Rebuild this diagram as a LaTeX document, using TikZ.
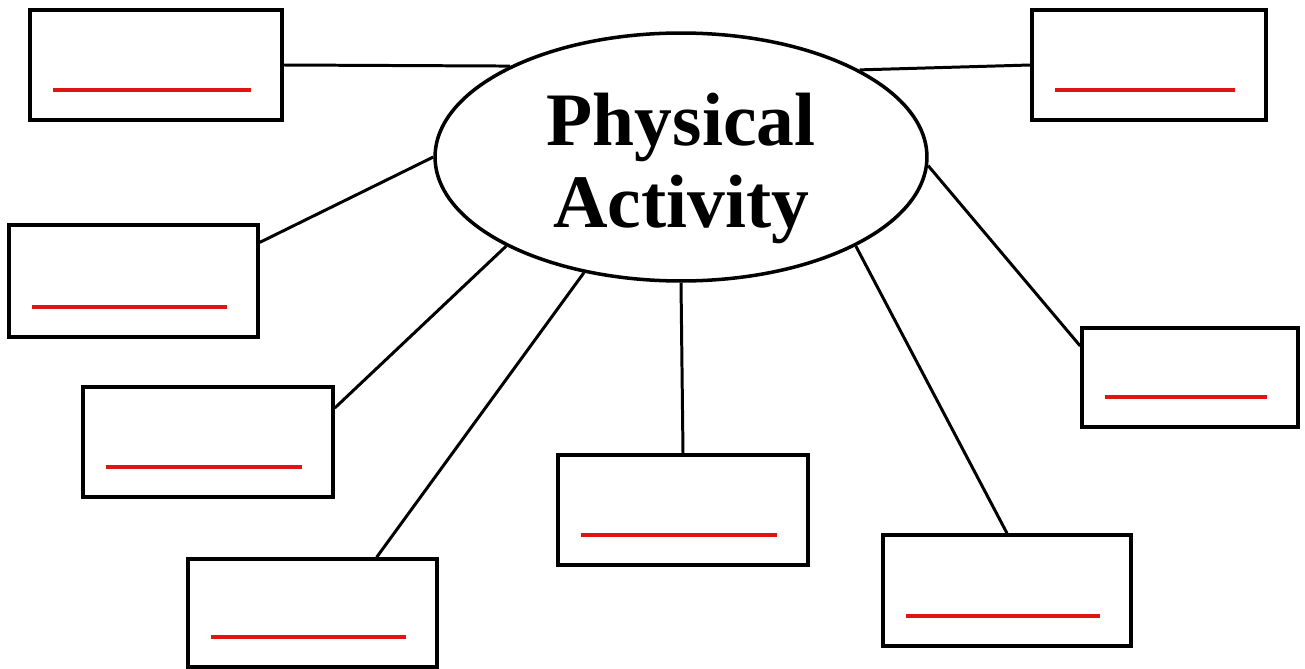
\documentclass[tikz,border=0pt]{standalone}
\usepackage{fontspec}
\setmainfont{Liberation Serif}
\usepackage{xcolor}
\usetikzlibrary{shapes.geometric}
\definecolor{blankred}{RGB}{225,20,20}

\begin{document}
\begin{tikzpicture}[
    x=0.02cm, y=-0.02cm,
    hub/.style={draw, ellipse, line width=2pt, minimum width=9.84cm, minimum height=4.96cm, inner sep=0pt, align=center, font=\fontsize{43}{46.7}\selectfont\bfseries},
    blank/.style={draw, line width=2pt, minimum width=5cm, minimum height=2.2cm, inner sep=0pt},
    link/.style={line width=1.7pt},
    fillin/.style={draw=blankred, line width=2.4pt}
]
\useasboundingbox (0,0) rectangle (1305,669);

\node[hub] (pa) at (681,157) {\rule{0pt}{1.5cm}Physical\\Activity};

\node[blank, minimum width=5.04cm] (b1) at (156,65) {};
\node[blank, minimum width=4.68cm] (b2) at (1149,65) {};
\node[blank, minimum width=4.98cm, minimum height=2.24cm] (b3) at (133.5,281) {};
\node[blank] (b4) at (208,442) {};
\node[blank, minimum width=4.98cm, minimum height=2.16cm] (b5) at (312.5,613) {};
\node[blank] (b6) at (683,510) {};
\node[blank, minimum width=4.96cm, minimum height=2.22cm] (b7) at (1007,590.5) {};
\node[blank, minimum width=4.32cm, minimum height=1.98cm] (b8) at (1190,377.5) {};

% red answer lines
\foreach \b in {b1,b2,b3,b4,b5,b6,b7,b8}
    \draw[fillin] ([xshift=0.5cm,yshift=0.64cm]\b.south west) -- ([xshift=-0.66cm,yshift=0.64cm]\b.south east);

\draw[link] (b1.east) -- (pa.152);
\draw[link] (b2.west) -- (pa.26);
\draw[link] (b3.17) -- (pa.180);
\draw[link] (b4.15) -- (pa.207);
\draw[link] (b5.41) -- (pa.230);
\draw[link] (b6.north) -- (pa.270);
\draw[link] (b7.north) -- (pa.333);
\draw[link] (b8.164) -- (pa.358);

\end{tikzpicture}
\end{document}
